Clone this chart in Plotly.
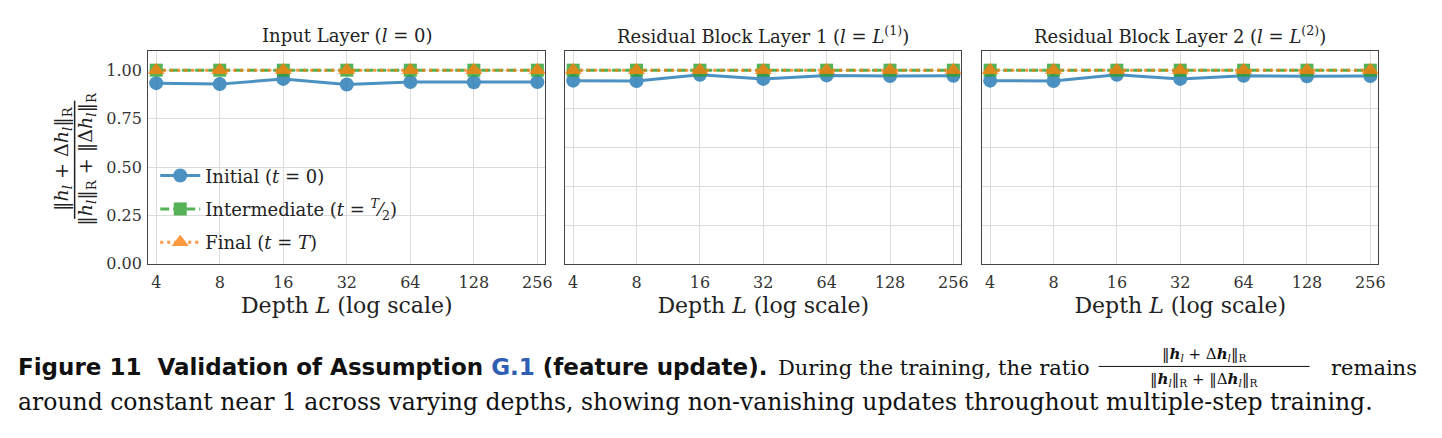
import math
import plotly.graph_objects as go

W, H = 1442, 438

depths = [4, 8, 16, 32, 64, 128, 256]
depth_labels = ["4", "8", "16", "32", "64", "128", "256"]

panel_titles = [
    "Input Layer (<i>l</i> = 0)",
    "Residual Block Layer 1 (<i>l</i> = <i>L</i><sup>(1)</sup>)",
    "Residual Block Layer 2 (<i>l</i> = <i>L</i><sup>(2)</sup>)",
]

initial_input = [0.933, 0.928, 0.955, 0.926, 0.939, 0.938, 0.939]
initial_res1 = [0.946, 0.944, 0.976, 0.955, 0.973, 0.970, 0.971]
initial_res2 = [0.946, 0.944, 0.976, 0.955, 0.971, 0.968, 0.970]

intermediate_input = [1.0, 1.0, 1.0, 1.0, 1.0, 1.0, 1.0]
intermediate_res1 = [1.0, 1.0, 1.0, 1.0, 1.0, 1.0, 1.0]
intermediate_res2 = [1.0, 1.0, 1.0, 1.0, 1.0, 1.0, 1.0]

final_input = [1.0, 1.0, 1.0, 1.0, 1.0, 1.0, 1.0]
final_res1 = [1.0, 1.0, 1.0, 1.0, 1.0, 1.0, 1.0]
final_res2 = [1.0, 1.0, 1.0, 1.0, 1.0, 1.0, 1.0]

series_names = [
    "Initial (<i>t</i> = 0)",
    "Intermediate (<i>t</i> = <sup><i>T</i></sup>⁄<sub>2</sub>)",
    "Final (<i>t</i> = <i>T</i>)",
]

panels = [
    (initial_input, intermediate_input, final_input),
    (initial_res1, intermediate_res1, final_res1),
    (initial_res2, intermediate_res2, final_res2),
]

BLUE = "#1f77b4"
GREEN = "#2ca02c"
ORANGE = "#ff7f0e"
SERIF = "DejaVu Serif"

xpix = [(149, 548), (568, 966), (987, 1385)]
ytop, ybot = 52, 270


def px_x(p):
    return p / W


def px_y(p):
    return 1 - p / H


fig = go.Figure()

styles = [
    dict(color=BLUE, dash="solid", symbol="circle", size=14),
    dict(color=GREEN, dash="9px,4px", symbol="square", size=13),
    dict(color=ORANGE, dash="3px,4px", symbol="triangle-up", size=15),
]

for i, vals in enumerate(panels):
    xa = "x" if i == 0 else f"x{i+1}"
    ya = "y" if i == 0 else f"y{i+1}"
    for j, (v, st) in enumerate(zip(vals, styles)):
        fig.add_trace(go.Scatter(
            x=depths, y=v, xaxis=xa, yaxis=ya,
            mode="lines+markers",
            name=series_names[j],
            legendgroup=f"g{j}",
            showlegend=(i == 0),
            opacity=0.8,
            line=dict(color=st["color"], width=3, dash=st["dash"]),
            marker=dict(color=st["color"], symbol=st["symbol"], size=st["size"],
                        line=dict(width=0)),
        ))

d = 0.0377
xrange = [math.log10(4) - d, math.log10(256) + d]

layout = dict(
    width=W, height=H,
    margin=dict(l=0, r=0, t=0, b=0),
    paper_bgcolor="white",
    plot_bgcolor="white",
    font=dict(family=SERIF, color="#222", size=14),
    legend=dict(
        x=px_x(156), y=px_y(161), xanchor="left", yanchor="top",
        bgcolor="rgba(255,255,255,0)", borderwidth=0,
        font=dict(family=SERIF, size=18, color="#222"),
        itemwidth=40, tracegroupgap=7,
    ),
    showlegend=True,
)

for i, (x0, x1) in enumerate(xpix):
    xk = "xaxis" if i == 0 else f"xaxis{i+1}"
    yk = "yaxis" if i == 0 else f"yaxis{i+1}"
    ya = "y" if i == 0 else f"y{i+1}"
    xa = "x" if i == 0 else f"x{i+1}"
    layout[xk] = dict(
        domain=[px_x(x0), px_x(x1)], anchor=ya, type="log", range=xrange,
        tickvals=depths, ticktext=depth_labels, showgrid=True,
        gridcolor="#dcdcdc", gridwidth=1, showline=True, linecolor="#444",
        linewidth=1.2, mirror=True, ticks="outside", ticklen=4,
        tickcolor="rgba(0,0,0,0)", zeroline=False,
        tickfont=dict(family=SERIF, size=16, color="#333"),
        title=dict(text="Depth <i>L</i> (log scale)",
                   font=dict(family=SERIF, size=22, color="#222"), standoff=6),
    )
    layout[yk] = dict(
        domain=[px_y(ybot), px_y(ytop)], anchor=xa, range=[0, 1.1],
        dtick=0.25 if i == 0 else 0.2, tick0=0,
        tickformat=".2f", showticklabels=(i == 0), showgrid=True,
        gridcolor="#dcdcdc", gridwidth=1, showline=True, linecolor="#444",
        linewidth=1.2, mirror=True, ticks="outside", ticklen=2,
        tickcolor="rgba(0,0,0,0)", zeroline=False,
        tickfont=dict(family=SERIF, size=16, color="#333"),
    )

fig.update_layout(**layout)

annotations = []
for i, (x0, x1) in enumerate(xpix):
    annotations.append(dict(
        text=panel_titles[i], x=px_x((x0 + x1) / 2), y=px_y(36),
        xref="paper", yref="paper", xanchor="center", yanchor="middle",
        showarrow=False, font=dict(family=SERIF, size=18, color="#222"),
    ))

# y-axis fraction label
annotations.append(dict(
    text="‖<i>h<sub>l</sub></i> + Δ<i>h<sub>l</sub></i>‖<sub>R</sub>",
    x=px_x(63), y=px_y(162), xref="paper", yref="paper",
    xanchor="center", yanchor="middle", textangle=-90, showarrow=False,
    font=dict(family=SERIF, size=19, color="#222"),
))
annotations.append(dict(
    text="‖<i>h<sub>l</sub></i>‖<sub>R</sub> + ‖Δ<i>h<sub>l</sub></i>‖<sub>R</sub>",
    x=px_x(87), y=px_y(163), xref="paper", yref="paper",
    xanchor="center", yanchor="middle", textangle=-90, showarrow=False,
    font=dict(family=SERIF, size=19, color="#222"),
))

# caption
annotations.append(dict(
    text="<b>Figure 11  Validation of Assumption <span style='color:#2f5fb3'>G.1</span> (feature update).</b>",
    x=px_x(16), y=px_y(376), xref="paper", yref="paper",
    xanchor="left", yanchor="middle", showarrow=False,
    font=dict(family="DejaVu Sans", size=23, color="#111"),
))
annotations.append(dict(
    text="During the training, the ratio",
    x=px_x(780), y=px_y(377), xref="paper", yref="paper",
    xanchor="left", yanchor="middle", showarrow=False,
    font=dict(family=SERIF, size=21, color="#111"),
))
annotations.append(dict(
    text="‖<b><i>h</i></b><sub><i>l</i></sub> + Δ<b><i>h</i></b><sub><i>l</i></sub>‖<sub>R</sub>",
    x=px_x(1210), y=px_y(363), xref="paper", yref="paper",
    xanchor="center", yanchor="middle", showarrow=False,
    font=dict(family=SERIF, size=15, color="#111"),
))
annotations.append(dict(
    text="‖<b><i>h</i></b><sub><i>l</i></sub>‖<sub>R</sub> + ‖Δ<b><i>h</i></b><sub><i>l</i></sub>‖<sub>R</sub>",
    x=px_x(1210), y=px_y(388), xref="paper", yref="paper",
    xanchor="center", yanchor="middle", showarrow=False,
    font=dict(family=SERIF, size=15, color="#111"),
))
annotations.append(dict(
    text="remains",
    x=px_x(1426), y=px_y(377), xref="paper", yref="paper",
    xanchor="right", yanchor="middle", showarrow=False,
    font=dict(family=SERIF, size=21, color="#111"),
))
annotations.append(dict(
    text="around constant near 1 across varying depths, showing non-vanishing updates throughout multiple-step training.",
    x=px_x(16), y=px_y(411), xref="paper", yref="paper",
    xanchor="left", yanchor="middle", showarrow=False,
    font=dict(family=SERIF, size=23.5, color="#111"),
))

shapes = [
    dict(type="line", xref="paper", yref="paper",
         x0=px_x(75), x1=px_x(75), y0=px_y(103), y1=px_y(224),
         line=dict(color="#222", width=1.5)),
    dict(type="line", xref="paper", yref="paper",
         x0=px_x(1104), x1=px_x(1316), y0=px_y(375), y1=px_y(375),
         line=dict(color="#111", width=1)),
]

fig.update_layout(annotations=annotations, shapes=shapes)

fig.write_html("out.html")
